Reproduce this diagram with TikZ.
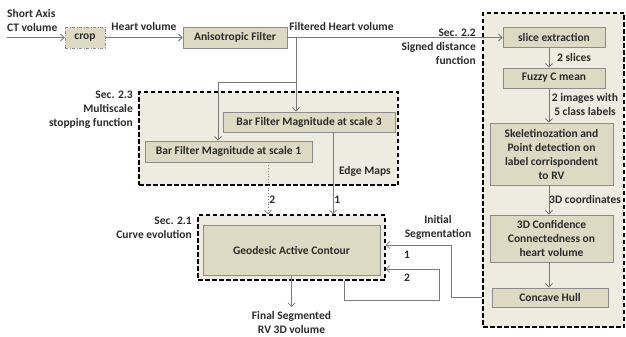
\documentclass[tikz,border=0pt]{standalone}
\usepackage{fontspec}
\setmainfont{Carlito}
\usepackage{tikz}
\usetikzlibrary{arrows.meta,calc}
\definecolor{boxtan}{HTML}{DDD9C3}
\definecolor{grouptan}{HTML}{EEECE1}
\definecolor{edgegray}{HTML}{8C8C8C}
\definecolor{linegray}{HTML}{7A7A7A}
\definecolor{txtgray}{HTML}{2B2B2B}

\begin{document}
\begin{tikzpicture}[x=1pt,y=-1pt,>={Straight Barb[length=3.5pt,width=7pt]},
  font=\fontsize{11.5}{14}\selectfont\bfseries, text=txtgray,
  box/.style={draw=edgegray,fill=boxtan,line width=0.9pt,inner sep=0pt,align=center},
  group/.style={draw=black,fill=grouptan,line width=1.6pt,dash pattern=on 4.5pt off 2.5pt,inner sep=0pt},
  flow/.style={draw=linegray,line width=0.8pt},
  lbl/.style={inner sep=1pt,align=center}]

\useasboundingbox (0,0) rectangle (626,337);

%the dashed sections
    \node[group,minimum width=259pt,minimum height=93pt] (sec23) at (268.5,138.5) {};
    \node[group,minimum width=187pt,minimum height=65pt] (sec21) at (291.5,247.5) {};
    \node[group,minimum width=141pt,minimum height=314pt] (sec22) at (553.5,170) {};

%the boxes
    \node[box,minimum width=40pt,minimum height=21pt,dash pattern=on 3pt off 1.5pt on 1pt off 1.5pt] (crop) at (85,37.5) {crop};
    \node[box,minimum width=104pt,minimum height=21pt] (aniso) at (235,37.5) {Anisotropic Filter};
    \node[box,minimum width=172pt,minimum height=20pt] (scale3) at (309,122) {Bar Filter Magnitude at scale 3};
    \node[box,minimum width=167pt,minimum height=21pt] (scale1) at (228.5,151.5) {Bar Filter Magnitude at scale 1};
    \node[box,minimum width=177pt,minimum height=50pt] (gac) at (291.5,250) {Geodesic Active Contour};
    \node[box,minimum width=102pt,minimum height=20pt] (slice) at (554,37.5) {slice extraction};
    \node[box,minimum width=102pt,minimum height=20pt] (fuzzy) at (554,78) {Fuzzy C mean};
    \node[box,minimum width=123pt,minimum height=62pt] (skel) at (551.5,154) {Skeletinozation and\\Point detection on\\label corrispondent\\to RV};
    \node[box,minimum width=123pt,minimum height=47pt] (conf) at (551.5,238.5) {3D Confidence\\Connectedness on\\heart volume};
    \node[box,minimum width=116pt,minimum height=19pt] (hull) at (550,297.5) {Concave Hull};

%helper points
    \coordinate (ctin) at (7,37.5);
    \coordinate (split) at (296,37.5);
    \coordinate (knee) at (296,82);
    \coordinate (knee1) at (218,82);
    \coordinate (x2) at (268,0);
    \coordinate (x1) at (333,0);
    \coordinate (outv) at (291.5,307);
    \coordinate (fb2a) at (344,300);
    \coordinate (fb2b) at (439,269);
    \coordinate (fb1) at (451,245);
    \coordinate (cx) at (549,0);

%main line
    \draw[flow,->] (ctin) -- (crop);
    \draw[flow,->] (crop) -- (aniso);
    \draw[flow,->] (aniso) -- (slice);
    \draw[flow,->] (split) -- (split |- scale3.north);
    \draw[flow,->] (knee) -- (knee1) -- (knee1 |- scale1.north);

%edge maps into the contour
    \draw[flow,dotted,->] (scale1.south -| x2) -- (sec21.north -| x2) node[lbl,right,pos=0.72] {2};
    \draw[flow,->] (scale3.south -| x1) -- (sec21.north -| x1) node[lbl,right,pos=0.82] {1};
    \draw[flow,->] (gac) -- (outv);

%feedback
    \draw[flow,->] (sec21.south -| fb2a) -- (fb2a) -| (fb2b) -- (fb2b -| sec21.east);
    \draw[flow,->] (hull.west -| sec22.west) -| (fb1) -- (fb1 -| sec21.east);

%right column
    \draw[flow,->] (slice.south -| cx) -- (fuzzy.north -| cx);
    \draw[flow,->] (fuzzy.south -| cx) -- (skel.north -| cx);
    \draw[flow,->] (skel.south -| cx) -- (conf.north -| cx);
    \draw[flow,->] (conf.south -| cx) -- (hull.north -| cx);

%labels
    \node[lbl,align=left,anchor=west] (lin) at (6,21) {Short Axis\\CT volume};
    \node[lbl] (lheart) at (144,27) {Heart volume};
    \node[lbl] (lfilt) at (341.5,27) {Filtered Heart volume};
    \node[lbl,align=right,anchor=east] (l22) at (477,47) {Sec. 2.2\\Signed distance\\function};
    \node[lbl,align=right,anchor=east] (l23) at (134,110) {Sec. 2.3\\Multiscale\\stopping function};
    \node[lbl,align=right,anchor=east] (l21) at (193,227.5) {Sec. 2.1\\Curve evolution};
    \node[lbl,anchor=east] (ledge) at (392,171) {Edge Maps};
    \node[lbl] (linit) at (438,227.5) {Initial\\Segmentation};
    \node[lbl] (lone) at (407,255) {1};
    \node[lbl] (ltwo) at (407,278) {2};
    \node[lbl,anchor=north] (lout) at (291.5,310) {Final Segmented\\RV 3D volume};
    \node[lbl,anchor=west] (lsl) at (556,58) {2 slices};
    \node[lbl] (limg) at (585,105) {2 images with\\5 class labels};
    \node[lbl,anchor=west] (lcoord) at (548,200) {3D coordinates};
\end{tikzpicture}
\end{document}
